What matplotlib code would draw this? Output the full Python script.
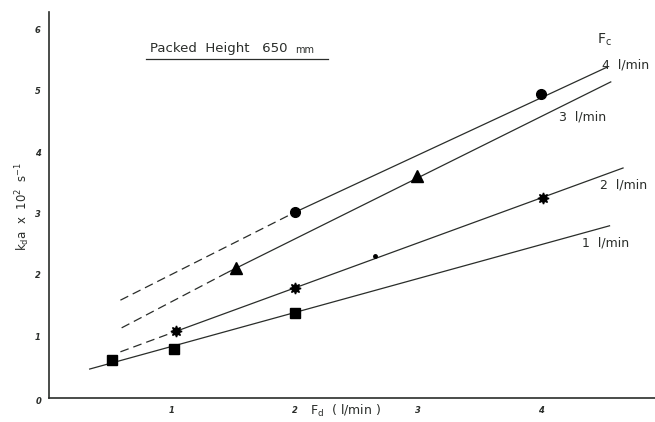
import matplotlib.pyplot as plt

# points (Fd in l/min, kda x 10^2 in 1/s)
circle_x = [2.0, 4.0]
circle_y = [3.02, 4.94]
tri_x = [1.52, 2.99]
tri_y = [2.11, 3.61]
star_x = [1.03, 2.0, 4.02]
star_y = [1.09, 1.79, 3.25]
dot_x = [2.65]
dot_y = [2.31]
square_x = [0.51, 1.02, 2.0]
square_y = [0.62, 0.80, 1.38]

# drawn lines: dashed part then solid part
line4_dash = ([0.58, 2.0], [1.59, 3.02])
line4_solid = ([2.0, 4.54], [3.02, 5.38])
line3_dash = ([0.59, 1.45], [1.14, 2.04])
line3_solid = ([1.45, 4.57], [2.04, 5.14])
line2_dash = ([0.58, 1.0], [0.75, 1.06])
line2_solid = ([1.0, 4.67], [1.06, 3.74])
line1_solid = ([0.33, 4.56], [0.47, 2.80])

labels = ['4  l/min', '3  l/min', '2  l/min', '1  l/min']
label_xy = [(4.50, 5.41), (4.15, 4.57), (4.48, 3.46), (4.34, 2.52)]

ink = '#2a2d2a'

fig = plt.figure(figsize=(6.55, 4.22), dpi=100)
ax = fig.add_axes([0.075, 0.057, 0.925, 0.915])

for seg in [line4_dash, line3_dash, line2_dash]:
    ax.plot(seg[0], seg[1], color=ink, lw=0.9, dashes=(7, 4))
for seg in [line4_solid, line3_solid, line2_solid, line1_solid]:
    ax.plot(seg[0], seg[1], color=ink, lw=0.9)

ax.plot(circle_x, circle_y, 'o', color='black', ms=7, ls='none')
ax.plot(tri_x, tri_y, '^', color='black', ms=8, ls='none')
ax.plot(star_x, star_y, marker=(8, 1, 0), color='black', ms=8, ls='none')
ax.plot(dot_x, dot_y, 'o', color='black', ms=2.5, ls='none')
ax.plot(square_x, square_y, 's', color='black', ms=6.5, ls='none')

for txt, (lx, ly) in zip(labels, label_xy):
    ax.text(lx, ly, txt, fontsize=9, color=ink, va='center', ha='left')
ax.text(4.46, 5.82, r'F$_\mathrm{c}$', fontsize=10, color=ink, va='center')

ax.text(0.82, 5.68, 'Packed  Height   650', fontsize=9.5, color=ink, va='center')
ax.text(2.00, 5.66, 'mm', fontsize=7, color=ink, va='center')
ax.plot([0.79, 2.27], [5.52, 5.52], color=ink, lw=0.9)

ax.set_xlim(0, 4.93)
ax.set_ylim(0, 6.28)
ax.set_xticks([1, 2, 3, 4])
ax.set_yticks([1, 2, 3, 4, 5, 6])
ax.tick_params(length=0, labelsize=6, colors=ink, pad=6)
for lab in ax.get_xticklabels() + ax.get_yticklabels():
    lab.set_fontstyle('italic')
    lab.set_fontweight('bold')
ax.text(-0.06, -0.06, '0', fontsize=6, fontstyle='italic', fontweight='bold',
        color=ink, ha='right', va='center')

for side in ['top', 'right']:
    ax.spines[side].set_visible(False)
for side in ['left', 'bottom']:
    ax.spines[side].set_color(ink)
    ax.spines[side].set_linewidth(1.2)

fig.text(0.527, 0.018, r'F$_\mathrm{d}$  ( l/min )', fontsize=9, color=ink, ha='center')
fig.text(0.034, 0.51, r'k$_\mathrm{d}$a  x  10$^{2}$  s$^{-1}$', fontsize=8.5,
         color=ink, rotation=90, ha='center', va='center')

fig.savefig('out.png', dpi=100)
